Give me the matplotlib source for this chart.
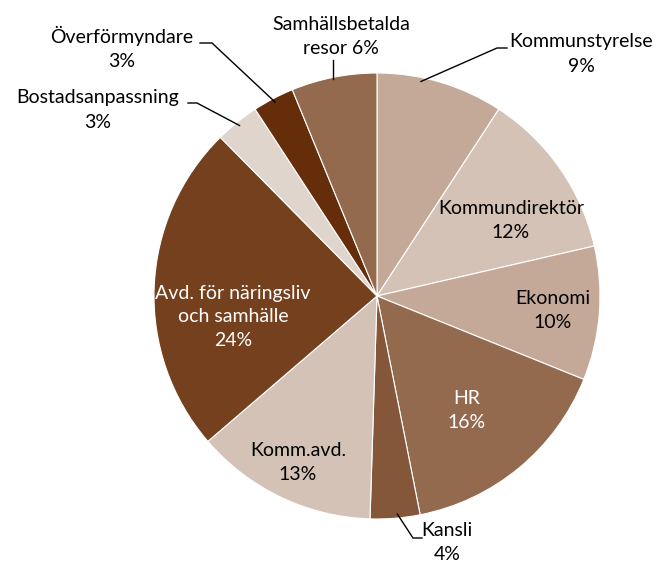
import numpy as np
import matplotlib.pyplot as plt

# data
avdelningar = ['Kommunstyrelse', 'Kommundirektör', 'Ekonomi', 'HR', 'Kansli',
               'Komm.avd.', 'Avd. för näringsliv\noch samhälle', 'Bostadsanpassning',
               'Överförmyndare', 'Samhällsbetalda\nresor']
andel = [9.2, 12.2, 9.7, 15.8, 3.6, 13.2, 23.9, 3.2, 3.0, 6.2]
procent_text = ['9%', '12%', '10%', '16%', '4%', '13%', '24%', '3%', '3%', '6%']

farger = ['#C4A998', '#D3C2B5', '#C4A998', '#936A4E', '#85573A',
          '#D3C2B5', '#74401D', '#E0D5CD', '#652D0A', '#936A4E']

plt.rcParams['font.family'] = ['Lato', 'DejaVu Sans']

W, H = 663, 565
fig = plt.figure(figsize=(W / 100, H / 100), dpi=100)
ax = fig.add_axes([0, 0, 1, 1])

cx, cy, R = 377, H - 296, 223
wedges, _ = ax.pie(andel, colors=farger, startangle=90, counterclock=False,
                   center=(cx, cy), radius=R, frame=True,
                   wedgeprops=dict(edgecolor='white', linewidth=0.8))
ax.set_xlim(0, W)
ax.set_ylim(0, H)
ax.set_aspect('equal')
ax.axis('off')

FS = 14
LS = 1.5

# labels inside the pie (pixel coords, y from top)
inne = {
    1: (511, 220, 'black'),
    2: (553, 311, 'black'),
    3: (467, 410, 'white'),
    5: (298, 462, 'black'),
    6: (233, 317, 'white'),
}
for i, (x, y, c) in inne.items():
    ax.text(x, H - y, avdelningar[i] + '\n' + procent_text[i], ha='center',
            va='center', color=c, fontsize=FS, linespacing=LS)

# labels outside with leader lines
ute = {
    0: (581, 54, [(507, 48), (497, 48)], 0.35),
    4: (447, 542, [(422, 538), (413, 538)], 0.45),
    7: (98, 110, [(188, 103), (197, 103)], 0.5),
    8: (122, 48, [(200, 43), (212, 43)], 0.5),
    9: (341, 36, None, None),
}
kum = np.cumsum([0] + andel)
for i, (x, y, pts, frac) in ute.items():
    sep = ' ' if i == 9 else '\n'
    ax.text(x, H - y, avdelningar[i] + sep + procent_text[i], ha='center',
            va='center', color='black', fontsize=FS, linespacing=LS)
    if pts is None:
        ey = cy + np.sqrt(R ** 2 - (333 - cx) ** 2) - 2
        ax.plot([333, 333], [H - 60, ey], color='black', lw=1)
        continue
    ang = (kum[i] + frac * andel[i]) / 100 * 2 * np.pi
    ex = cx + (R - 4) * np.sin(ang)
    ey = cy + (R - 4) * np.cos(ang)
    xs = [p[0] for p in pts] + [ex]
    ys = [H - p[1] for p in pts] + [ey]
    ax.plot(xs, ys, color='black', lw=1)

plt.savefig('out.png', dpi=100)
